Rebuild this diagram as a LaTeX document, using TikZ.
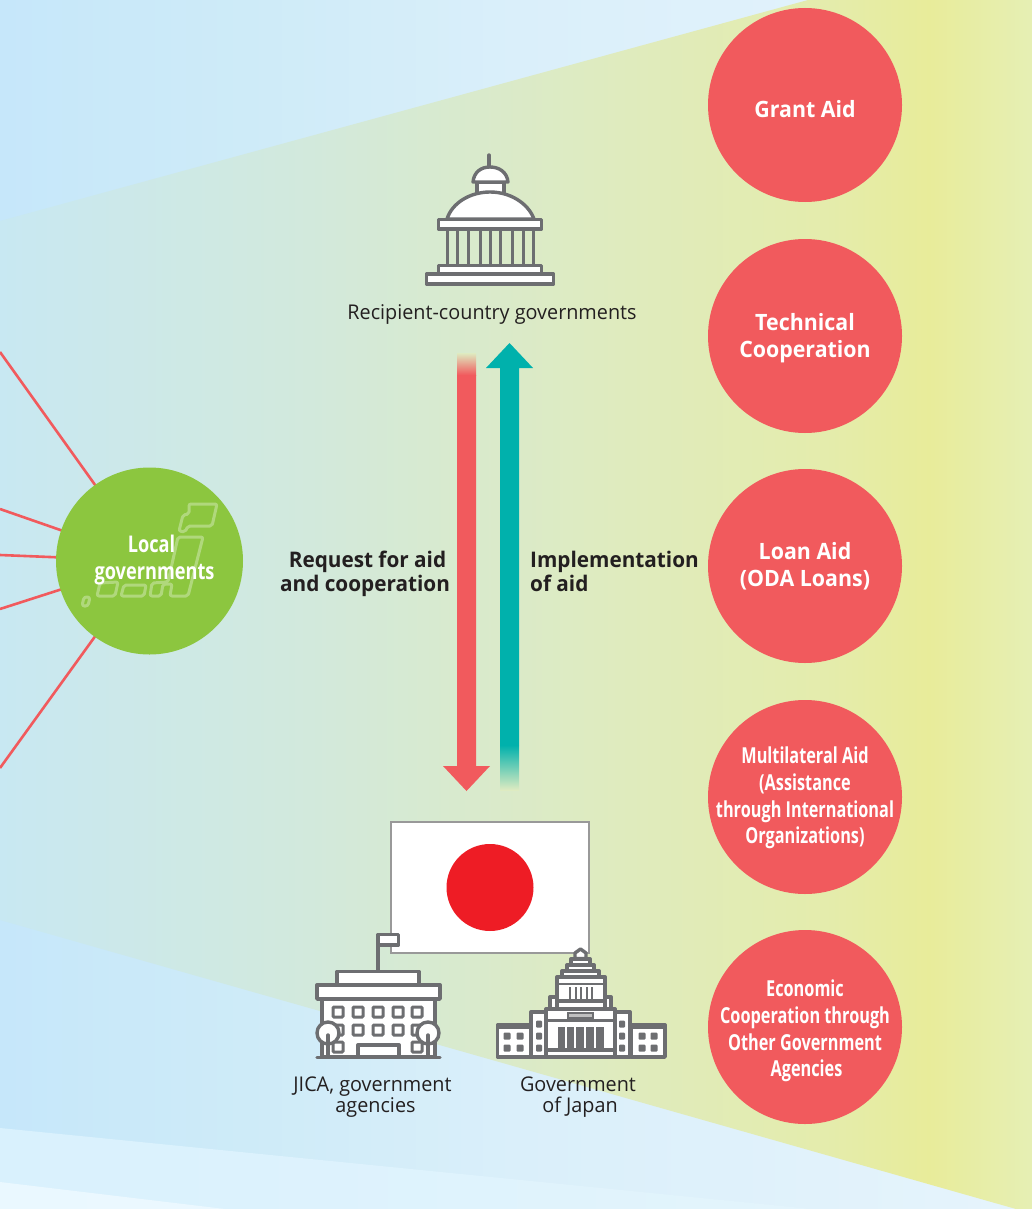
\documentclass[tikz,border=0pt]{standalone}
\usepackage{fontspec}
\setmainfont{Open Sans}
\newfontfamily\lblfont[FakeStretch=.975]{Open Sans}
\newfontfamily\boldlbl[FakeStretch=.965]{Open Sans}
\newfontfamily\wideaid[FakeStretch=.95]{Open Sans}
\newfontfamily\condfont[FakeStretch=.74]{Open Sans}
\newfontfamily\localfont[FakeStretch=.79]{Open Sans}
\definecolor{redc}{HTML}{F15A5D}
\definecolor{tealc}{HTML}{00B1AC}
\definecolor{greenc}{HTML}{8CC63F}
\definecolor{iconc}{HTML}{6D6E71}
\definecolor{flagred}{HTML}{EE1C25}
\definecolor{txtc}{HTML}{231F20}
\definecolor{bg1a}{HTML}{C6E7FA}
\definecolor{bg1b}{HTML}{CEEBF8}
\definecolor{bg1c}{HTML}{DAEFFA}
\definecolor{bg1d}{HTML}{E6F4FC}
\definecolor{bg2a}{HTML}{D9F1FD}
\definecolor{bg2b}{HTML}{E6F5FC}
\definecolor{bg3a}{HTML}{EAF8FF}
\definecolor{bg3b}{HTML}{F0F9FD}
\definecolor{wa}{HTML}{C8E8F2}
\definecolor{wb}{HTML}{D2E9DC}
\definecolor{wc}{HTML}{DFEBBE}
\definecolor{wd}{HTML}{E4ECAC}
\definecolor{we}{HTML}{E8EC9A}
\definecolor{wf}{HTML}{E6EFB4}
\pgfdeclarehorizontalshading{bgone}{100bp}{color(0bp)=(bg1a); color(25bp)=(bg1a); color(37bp)=(bg1b); color(50bp)=(bg1c); color(75bp)=(bg1d); color(100bp)=(bg1d)}
\pgfdeclarehorizontalshading{bgtwo}{100bp}{color(0bp)=(bg2a); color(25bp)=(bg2a); color(75bp)=(bg2b); color(100bp)=(bg2b)}
\pgfdeclarehorizontalshading{bgthree}{100bp}{color(0bp)=(bg3a); color(25bp)=(bg3a); color(75bp)=(bg3b); color(100bp)=(bg3b)}
\pgfdeclarehorizontalshading{wedgeshade}{100bp}{color(0bp)=(wa); color(25bp)=(wa); color(40bp)=(wb); color(55bp)=(wc); color(65bp)=(wd); color(70bp)=(we); color(75bp)=(wf); color(100bp)=(wf)}
\tikzset{
  aidcircle/.style={circle,fill=redc,minimum size=194pt,inner sep=0pt},
  aidwide/.style={font=\wideaid\bfseries\fontsize{22.5}{27}\selectfont,text=white,align=center,inner sep=0pt},
  aidcond/.style={font=\condfont\bfseries\fontsize{22}{26.6}\selectfont,text=white,align=center,inner sep=0pt},
  capline/.style={font=\lblfont\fontsize{20.3}{21}\selectfont,text=txtc,align=center,inner sep=0pt},
  arrowlabel/.style={font=\boldlbl\bfseries\fontsize{21.5}{24}\selectfont,text=txtc,inner sep=0pt},
  spoke/.style={draw=redc,line width=2.6pt},
  ico/.style={draw=iconc,line width=3.4pt,fill=white,line join=round,line cap=round},
  icoline/.style={draw=iconc,line width=3.4pt,line cap=round},
  icothin/.style={draw=iconc,line width=2pt},
  icofill/.style={fill=iconc,rounded corners=1pt},
  mapline/.style={draw=white,draw opacity=.32,line width=3pt,rounded corners=2pt,line join=round}
}
\begin{document}
\begin{tikzpicture}[x=1pt,y=-1pt]
\useasboundingbox (0,0) rectangle (1032,1209);
\clip (0,0) rectangle (1032,1209);
% backgrounds
\shade[shading=bgone] (0,0) rectangle (1032,1209);
\begin{scope}
\clip (0,1128) -- (1032,1231) -- (1032,1300) -- (0,1300) -- cycle;
\shade[shading=bgtwo] (0,1100) rectangle (1032,1209);
\end{scope}
\begin{scope}
\clip (0,1182) -- (225,1209) -- (0,1209) -- cycle;
\shade[shading=bgthree] (0,1100) rectangle (1032,1209);
\end{scope}
\begin{scope}
\clip (0,221) -- (808,0) -- (1032,0) -- (1032,1209) -- (1016,1209) -- (0,920) -- cycle;
\shade[shading=wedgeshade] (0,0) rectangle (1032,1209);
\end{scope}
% local governments and its spokes
\coordinate (s1) at (0,352);
\coordinate (s2) at (0,509);
\coordinate (s3) at (0,555);
\coordinate (s4) at (0,609);
\coordinate (s5) at (0,768);
\coordinate (lgc) at (149.5,561);
\foreach \s in {s1,s2,s3,s4,s5} \draw[spoke] (\s) -- (lgc);
\node[circle,fill=greenc,minimum size=187pt,inner sep=0pt] (local) at (lgc) {};
% map outline
\draw[mapline] (178,537) -- (203,537) -- (188,596) -- (170,596) -- (172,584) -- (163,584) -- (161,596) -- (150,596) -- (152,583) -- (168,582) -- cycle;
\draw[mapline] (189,504) -- (217,504) -- (212,526) -- (188,526) -- (185,532) -- (179,531) -- (183,515) -- (189,514) -- cycle;
\draw[mapline] (124,585) -- (146,585) -- (144,596) -- (121,596) -- cycle;
\draw[mapline] (100,583) -- (118,582) -- (115,596) -- (97,596) -- cycle;
\draw[mapline,rounded corners=2.5pt] (84,597) -- (90,597) -- (88,606) -- (82,606) -- cycle;
\node[font=\localfont\bfseries\fontsize{23}{26.5}\selectfont,text=white,align=center,inner sep=0pt] (localtxt) at (154.5,560) {\makebox[0pt]{\hspace{-6pt}Local}\\governments};
% aid circles
\node[aidcircle] (grant) at (805,105) {};
\node[aidcircle] (tech) at (805,336) {};
\node[aidcircle] (loan) at (805,566) {};
\node[aidcircle] (multi) at (805,797) {};
\node[aidcircle] (econ) at (805,1027) {};
\node[aidwide] (granttxt) at (805,109) {Grant Aid};
\node[aidwide] (techtxt) at (805,338) {Technical\\Cooperation};
\node[aidwide] (loantxt) at (805,566) {Loan Aid\\(ODA Loans)};
\node[aidcond] (multitxt) at (805,798) {Multilateral Aid\\(Assistance\\through International\\Organizations)};
\node[aidcond] (econtxt) at (805,1031) {Economic\\Cooperation through\\Other Government\\\hspace*{3pt}Agencies};
% recipient icon
\draw[icoline] (489,155) -- (489,167);
\draw[ico] (477,182) rectangle (504,194);
\draw[ico] (473,182) .. controls (474,172) and (481,167) .. (490,167) .. controls (499,167) and (507,172) .. (508,182) -- cycle;
\draw[ico] (447,219) .. controls (452,203) and (470,192) .. (490,192) .. controls (510,192) and (528,203) .. (534,219) -- cycle;
\foreach \x in {447,457,468,480,490,500,512,523,533} \draw[draw=iconc,line width=3pt] (\x,229) -- (\x,266);
\draw[ico] (438.5,219.5) rectangle (541.5,229);
\draw[ico] (438.5,265.5) rectangle (541.5,274);
\draw[ico] (426.5,274) rectangle (553.5,284);
\node[capline] (recip) at (492,314) {Recipient-country governments};
% arrows
\coordinate (reqtop) at (466.5,353);
\coordinate (reqbot) at (466.5,791);
\coordinate (impbot) at (509.5,790);
\coordinate (imptop) at (509.5,343);
\shade[top color=wc!92!wb,bottom color=redc] ([xshift=-9.5pt]reqtop) rectangle ([xshift=9.5pt,yshift=-22pt]reqtop);
\fill[redc] ([xshift=-9.5pt,yshift=-22pt]reqtop) -- ([xshift=9.5pt,yshift=-22pt]reqtop) -- ([xshift=9.5pt,yshift=25pt]reqbot) -- ([xshift=23.5pt,yshift=25pt]reqbot) -- (reqbot) -- ([xshift=-23.5pt,yshift=25pt]reqbot) -- ([xshift=-9.5pt,yshift=25pt]reqbot) -- cycle;
\fill[tealc] (imptop) -- ([xshift=23.5pt,yshift=-25pt]imptop) -- ([xshift=9.5pt,yshift=-25pt]imptop) -- ([xshift=9.5pt,yshift=45pt]impbot) -- ([xshift=-9.5pt,yshift=45pt]impbot) -- ([xshift=-9.5pt,yshift=-25pt]imptop) -- ([xshift=-23.5pt,yshift=-25pt]imptop) -- cycle;
\shade[top color=tealc,bottom color=wc!90!wb] ([xshift=-9.5pt,yshift=45pt]impbot) rectangle ([xshift=9.5pt]impbot);
\node[arrowlabel,align=center] (reqlbl) at (365,573.5) {\hspace*{5pt}Request for aid\\and cooperation};
\node[arrowlabel,align=left,anchor=west] (implbl) at (530,571) {Implementation\\of aid};
% flag
\node[draw=black!40,line width=1.2pt,fill=white,minimum width=198pt,minimum height=131pt,inner sep=0pt] (flag) at (490,887.5) {};
\node[circle,fill=flagred,minimum size=87pt,inner sep=0pt] (sun) at (490,887.5) {};
% JICA icon
\draw[icoline] (378,940) -- (378,971);
\draw[ico] (378,934.5) rectangle (398.5,945);
\draw[ico] (322,999) rectangle (435,1057);
\draw[ico] (337,971.5) rectangle (419,985);
\draw[ico] (317,985) rectangle (440,999);
\foreach \x in {338,358,378,398,417} \foreach \y in {1012,1030} \draw[draw=iconc,line width=3pt,fill=white,rounded corners=1pt] (\x-5,\y-5) rectangle (\x+5,\y+5);
\foreach \x in {338,417} \draw[draw=iconc,line width=3pt,fill=white,rounded corners=1pt] (\x-5,1047-5) rectangle (\x+5,1047+5);
\draw[ico] (358,1045) rectangle (399,1057);
\draw[icoline] (317,1057.5) -- (440,1057.5);
\foreach \x in {328,428} {
  \draw[ico] (\x,1033) circle (11);
  \draw[icoline] (\x,1035) -- (\x,1057);
}
\node[capline] (jicatxt) at (372.5,1097) {JICA, government\\\hspace*{6pt}agencies};
% Diet icon
\draw[ico] (497.5,1025) rectangle (531,1057);
\draw[icothin] (497.5,1028) -- (531,1028);
\draw[ico] (631,1025) rectangle (665,1057);
\draw[icothin] (631,1028) -- (665,1028);
\foreach \x in {507,520,642,654} \foreach \y in {1036,1048} \fill[icofill] (\x-3.5,\y-3.5) rectangle (\x+3.5,\y+3.5);
\draw[ico] (531,1012) rectangle (546,1057);
\draw[ico] (615,1012) rectangle (630,1057);
\foreach \x in {539,622} \foreach \y in {1024,1036,1048} \fill[icofill] (\x-3,\y-3.5) rectangle (\x+3,\y+3.5);
\draw[ico] (546,1009) rectangle (615,1057);
\draw[icoline] (546,1020.5) -- (615,1020.5);
\draw[icothin,fill=black!25] (568,1013) rectangle (593,1017.5);
\foreach \x in {557.5,566.5,576,586,596} \fill[iconc] (\x,1027) rectangle (\x+7.5,1049);
\draw[icoline] (548,1050) -- (613,1050);
\draw[ico] (550,997) rectangle (611,1008.5);
\draw[ico] (557,977) rectangle (605,1001);
\draw[ico] (557,1001) rectangle (605,1008.5);
\foreach \x in {570,575.5,581,586.5,592} \draw[draw=iconc,line width=2pt] (\x,987) -- (\x,1000);
\draw[draw=iconc,line width=2pt] (557,984) -- (605,984);
\draw[ico] (562,971) rectangle (599,977);
\draw[ico] (567,965) rectangle (594,971);
\draw[ico] (571,959) rectangle (590,965);
\draw[ico] (575,958.5) -- (575,953) -- (580.5,949) -- (586,953) -- (586,958.5) -- cycle;
\node[capline] (govtxt) at (578,1097) {Government\\\hspace*{4pt}of Japan};
\end{tikzpicture}
\end{document}
